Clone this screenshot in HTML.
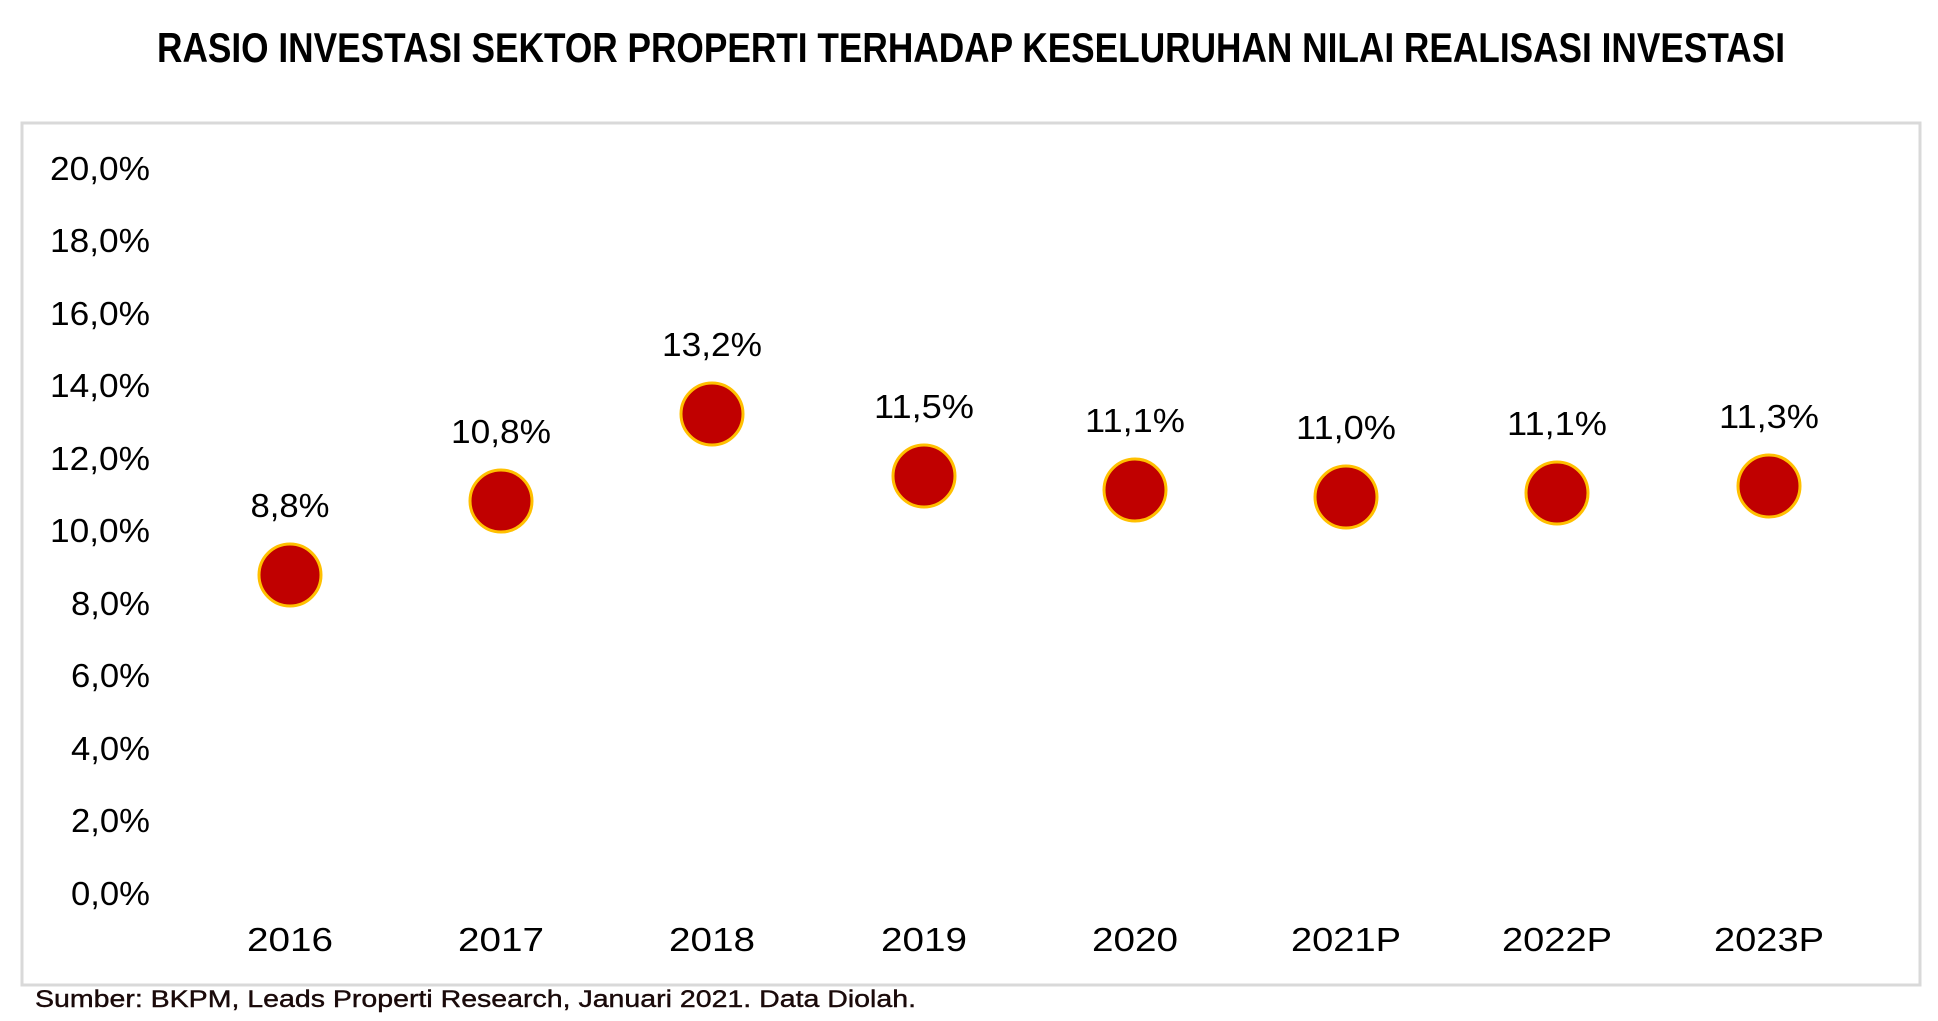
<!DOCTYPE html>
<html><head><meta charset="utf-8"><style>body{margin:0;background:#fff}svg{display:block}</style></head><body>
<svg width="1938" height="1021" xmlns="http://www.w3.org/2000/svg" font-family="Liberation Sans, sans-serif">
<rect x="0" y="0" width="1938" height="1021" fill="#fff"/>
<text x="971" y="62" font-size="42" font-weight="bold" text-anchor="middle" textLength="1628" lengthAdjust="spacingAndGlyphs" fill="#000">RASIO INVESTASI SEKTOR PROPERTI TERHADAP KESELURUHAN NILAI REALISASI INVESTASI</text>
<rect x="22" y="123" width="1898" height="862" fill="#fff" stroke="#d9d9d9" stroke-width="3"/>
<g font-size="33" fill="#000" text-anchor="end">
<text x="150" y="180" textLength="100" lengthAdjust="spacingAndGlyphs">20,0%</text>
<text x="150" y="252" textLength="100" lengthAdjust="spacingAndGlyphs">18,0%</text>
<text x="150" y="325" textLength="100" lengthAdjust="spacingAndGlyphs">16,0%</text>
<text x="150" y="397" textLength="100" lengthAdjust="spacingAndGlyphs">14,0%</text>
<text x="150" y="470" textLength="100" lengthAdjust="spacingAndGlyphs">12,0%</text>
<text x="150" y="542" textLength="100" lengthAdjust="spacingAndGlyphs">10,0%</text>
<text x="150" y="615" textLength="79" lengthAdjust="spacingAndGlyphs">8,0%</text>
<text x="150" y="687" textLength="79" lengthAdjust="spacingAndGlyphs">6,0%</text>
<text x="150" y="760" textLength="79" lengthAdjust="spacingAndGlyphs">4,0%</text>
<text x="150" y="832" textLength="79" lengthAdjust="spacingAndGlyphs">2,0%</text>
<text x="150" y="905" textLength="79" lengthAdjust="spacingAndGlyphs">0,0%</text>
</g>
<g font-size="33" fill="#000" text-anchor="middle">
<text x="290" y="951" textLength="86" lengthAdjust="spacingAndGlyphs">2016</text>
<text x="501" y="951" textLength="86" lengthAdjust="spacingAndGlyphs">2017</text>
<text x="712" y="951" textLength="86" lengthAdjust="spacingAndGlyphs">2018</text>
<text x="924" y="951" textLength="86" lengthAdjust="spacingAndGlyphs">2019</text>
<text x="1135" y="951" textLength="86" lengthAdjust="spacingAndGlyphs">2020</text>
<text x="1346" y="951" textLength="110" lengthAdjust="spacingAndGlyphs">2021P</text>
<text x="1557" y="951" textLength="110" lengthAdjust="spacingAndGlyphs">2022P</text>
<text x="1769" y="951" textLength="110" lengthAdjust="spacingAndGlyphs">2023P</text>
</g>
<g fill="#c00000" stroke="#ffc000" stroke-width="3">
<circle cx="290" cy="575" r="31"/>
<circle cx="501" cy="501" r="31"/>
<circle cx="712" cy="414" r="31"/>
<circle cx="924" cy="476" r="31"/>
<circle cx="1135" cy="490" r="31"/>
<circle cx="1346" cy="497" r="31"/>
<circle cx="1557" cy="493" r="31"/>
<circle cx="1769" cy="486" r="31"/>
</g>
<g font-size="33" fill="#000" text-anchor="middle">
<text x="290" y="517" textLength="79" lengthAdjust="spacingAndGlyphs">8,8%</text>
<text x="501" y="443" textLength="100" lengthAdjust="spacingAndGlyphs">10,8%</text>
<text x="712" y="356" textLength="100" lengthAdjust="spacingAndGlyphs">13,2%</text>
<text x="924" y="418" textLength="100" lengthAdjust="spacingAndGlyphs">11,5%</text>
<text x="1135" y="432" textLength="100" lengthAdjust="spacingAndGlyphs">11,1%</text>
<text x="1346" y="439" textLength="100" lengthAdjust="spacingAndGlyphs">11,0%</text>
<text x="1557" y="435" textLength="100" lengthAdjust="spacingAndGlyphs">11,1%</text>
<text x="1769" y="428" textLength="100" lengthAdjust="spacingAndGlyphs">11,3%</text>
</g>
<text x="35" y="1007" font-size="24" fill="#1a0a0a" stroke="#1a0a0a" stroke-width="0.4" textLength="881" lengthAdjust="spacingAndGlyphs">Sumber: BKPM, Leads Properti Research, Januari 2021. Data Diolah.</text>
</svg>
</body></html>
